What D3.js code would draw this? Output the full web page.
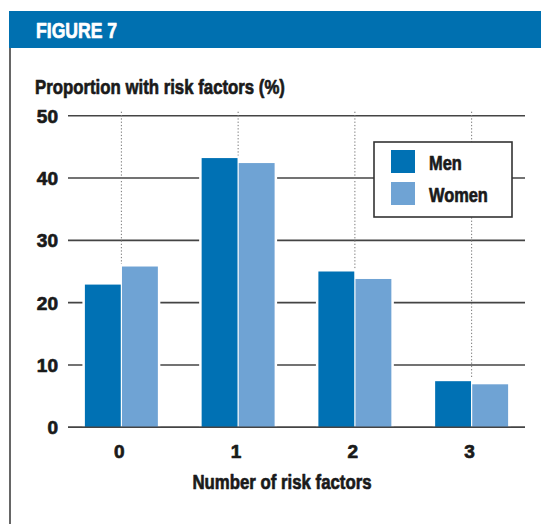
<!DOCTYPE html>
<html>
<head>
<meta charset="utf-8">
<script src="https://cdn.jsdelivr.net/npm/d3@7"></script>
<style>
  body { margin: 0; background: #fff; }
  text { font-family: "Liberation Sans", Arial, sans-serif; font-weight: bold; fill: #1a1a1a;
         stroke: #1a1a1a; stroke-width: 0.7px; stroke-linejoin: round; }
</style>
</head>
<body>
<script>
// chart data
const categories = ["0", "1", "2", "3"];
const seriesNames = ["Men", "Women"];
const menValues = [22.9, 43.2, 25.0, 7.4];
const womenValues = [25.8, 42.4, 23.8, 6.9];
const yTicks = [0, 10, 20, 30, 40, 50];
const colors = { Men: "#0071b4", Women: "#6fa3d4" };

const width = 541, height = 524;

const svg = d3.select("body").append("svg")
    .attr("width", width)
    .attr("height", height);

// condensed look: squeeze a normal bold face horizontally
function narrowText(parent, x, y, str, size, anchor) {
    return parent.append("g")
        .attr("transform", "translate(" + x + "," + y + ") scale(0.8,1)")
        .append("text")
        .attr("text-anchor", anchor || "start")
        .style("font-size", size + "px")
        .text(str);
}

// header band
svg.append("rect")
    .attr("x", 9).attr("y", 11)
    .attr("width", width - 9).attr("height", 37)
    .attr("fill", "#0070b0");
narrowText(svg, 36, 37.5, "FIGURE 7", 22).style("fill", "#fff").style("stroke", "#fff");

// left frame line
svg.append("line")
    .attr("x1", 10).attr("x2", 10)
    .attr("y1", 48).attr("y2", height)
    .attr("stroke", "#666").attr("stroke-width", 2);

// scales
const y = d3.scaleLinear().domain([0, 50]).range([427.3, 115.7]);
const x0 = d3.scaleBand().domain(categories).range([63, 530])
    .paddingInner(0.375).paddingOuter(0.1875);
const x1 = d3.scaleBand().domain(seriesNames).range([0, x0.bandwidth()]);

const gridLeft = 68, gridRight = 525;

// gridlines
svg.append("g").selectAll("line")
    .data(yTicks)
    .enter().append("line")
    .attr("x1", gridLeft).attr("x2", gridRight)
    .attr("y1", d => y(d)).attr("y2", d => y(d))
    .attr("stroke", "#444").attr("stroke-width", 1.6);

// dotted category lines
svg.append("g").selectAll("line")
    .data(categories)
    .enter().append("line")
    .attr("x1", d => x0(d) + x0.bandwidth() / 2)
    .attr("x2", d => x0(d) + x0.bandwidth() / 2)
    .attr("y1", y(50) - 4).attr("y2", y(0))
    .attr("stroke", "#777").attr("stroke-width", 1)
    .attr("stroke-dasharray", "1.3,2");

// y tick labels
svg.append("g").selectAll("text")
    .data(yTicks)
    .enter().append("text")
    .attr("x", 58)
    .attr("y", d => y(d))
    .attr("dy", "0.36em")
    .attr("text-anchor", "end")
    .style("font-size", "19px")
    .text(d => d);

// bars
const rows = categories.map((c, i) => ({ cat: c, Men: menValues[i], Women: womenValues[i] }));

const groups = svg.append("g").selectAll("g")
    .data(rows)
    .enter().append("g")
    .attr("transform", d => "translate(" + x0(d.cat) + ",0)");

// white halo so the gridlines break around bars
groups.selectAll("rect.halo")
    .data(d => seriesNames.map(k => ({ key: k, value: d[k] })))
    .enter().append("rect")
    .attr("class", "halo")
    .attr("x", d => x1(d.key) - 2.5)
    .attr("y", d => y(d.value) - 2.5)
    .attr("width", x1.bandwidth() + 5)
    .attr("height", d => y(0) - y(d.value) + 1.5)
    .attr("fill", "#fff");

groups.selectAll("rect.bar")
    .data(d => seriesNames.map(k => ({ key: k, value: d[k] })))
    .enter().append("rect")
    .attr("class", "bar")
    .attr("x", d => x1(d.key) + (d.key === "Women" ? 0.6 : 0))
    .attr("y", d => y(d.value))
    .attr("width", x1.bandwidth() - 0.6)
    .attr("height", d => y(0) - y(d.value))
    .attr("fill", d => colors[d.key]);

// baseline over the bars
svg.append("line")
    .attr("x1", gridLeft).attr("x2", gridRight)
    .attr("y1", y(0)).attr("y2", y(0))
    .attr("stroke", "#444").attr("stroke-width", 1.6);

// x tick labels
svg.append("g").selectAll("text")
    .data(categories)
    .enter().append("text")
    .attr("x", d => x0(d) + x0.bandwidth() / 2 - 2)
    .attr("y", 458)
    .attr("text-anchor", "middle")
    .style("font-size", "19px")
    .text(d => d);

// axis titles
narrowText(svg, 35, 94, "Proportion with risk factors (%)", 21);
narrowText(svg, 282, 489, "Number of risk factors", 21, "middle");

// legend
const legend = svg.append("g").attr("transform", "translate(374,142)");
legend.append("rect")
    .attr("width", 138).attr("height", 75)
    .attr("fill", "#fff")
    .attr("stroke", "#333").attr("stroke-width", 1.6);

seriesNames.forEach((name, i) => {
    const item = legend.append("g")
        .attr("transform", "translate(17," + (8 + i * 32) + ")");
    item.append("rect")
        .attr("width", 24).attr("height", 23)
        .attr("fill", colors[name]);
    narrowText(item, 38, 20, name, 20.5);
});
</script>
</body>
</html>
